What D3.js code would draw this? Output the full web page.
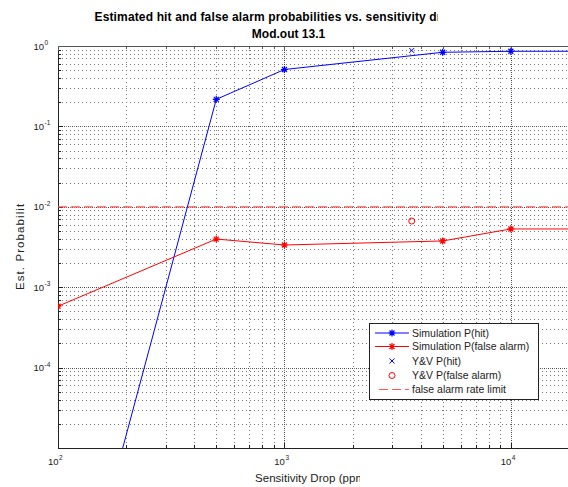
<!DOCTYPE html>
<html>
<head>
<meta charset="utf-8">
<script src="https://cdn.jsdelivr.net/npm/d3@7"></script>
<style>
  body{margin:0;background:#fff}
  svg{display:block}
  text{font-family:"Liberation Sans",Arial,Helvetica,sans-serif}
</style>
</head>
<body>
<svg id="chart"></svg>
<script>
const width=568, height=487;

// data
const sensitivity=[100,500,1000,5000,10000,20000];
const simHit=[1e-8,0.217,0.51,0.835,0.86,0.86];
const simFalseAlarm=[5.8e-4,3.97e-3,3.35e-3,3.76e-3,5.3e-3,5.3e-3];
const vvSensitivity=[3650];
const vvHit=[0.88];
const vvFalseAlarm=[6.65e-3];
const falseAlarmLimit=[0.01];
const xTicks=[100,1000,10000];
const yTicks=[1e-4,1e-3,1e-2,1e-1,1];
const legendLabels=["Simulation P(hit)","Simulation P(false alarm)","Y&V P(hit)","Y&V P(false alarm)","false alarm rate limit"];

const padL=58, padT=46, padB=448, padR=579;

let svg=d3.select("#chart").attr("width",width).attr("height",height);

let x=d3.scaleLog().domain([100,20000]).range([padL,padR]);
let y=d3.scaleLog().domain([1e-5,1]).range([padB,padT]);

// minor tick positions (1..9 per decade)
function minors(lo,hi){
  let out=[];
  for(let d=lo; d<hi; d*=10){
    for(let k=1;k<10;k++){ let v=k*d; if(v<=hi*1.0001) out.push(v); }
  }
  return out;
}
const xMinor=minors(100,20000);
const yMinor=minors(1e-5,1);

let defs=svg.append("defs");
defs.append("clipPath").attr("id","plotclip")
  .append("rect").attr("x",padL).attr("y",padT).attr("width",padR-padL).attr("height",padB-padT);

let grid=svg.append("g").attr("shape-rendering","crispEdges");
// minor grid
grid.selectAll(".vx").data(xMinor).join("line")
  .attr("x1",d=>Math.round(x(d))+0.5).attr("x2",d=>Math.round(x(d))+0.5)
  .attr("y1",padT).attr("y2",padB)
  .attr("stroke","#777").attr("stroke-dasharray","1,3");
grid.selectAll(".hy").data(yMinor).join("line")
  .attr("y1",d=>Math.round(y(d))+0.5).attr("y2",d=>Math.round(y(d))+0.5)
  .attr("x1",padL).attr("x2",padR)
  .attr("stroke","#777").attr("stroke-dasharray","1,3");
// major grid
grid.selectAll(".mx").data(xTicks).join("line")
  .attr("x1",d=>Math.round(x(d))+0.5).attr("x2",d=>Math.round(x(d))+0.5)
  .attr("y1",padT).attr("y2",padB)
  .attr("stroke","#444").attr("stroke-dasharray","1,3").attr("stroke-dashoffset",2);
grid.selectAll(".my").data(yTicks).join("line")
  .attr("y1",d=>Math.round(y(d))+0.5).attr("y2",d=>Math.round(y(d))+0.5)
  .attr("x1",padL).attr("x2",padR)
  .attr("stroke","#444").attr("stroke-dasharray","1,3").attr("stroke-dashoffset",2);

// axes (ticks inward, MATLAB style)
let axes=svg.append("g").attr("shape-rendering","crispEdges");
axes.append("line").attr("x1",padL+0.5).attr("x2",padL+0.5).attr("y1",padT).attr("y2",padB+0.5).attr("stroke","#222");
axes.append("line").attr("x1",padL).attr("x2",padR).attr("y1",padB+0.5).attr("y2",padB+0.5).attr("stroke","#222");
axes.append("line").attr("x1",padL).attr("x2",padR).attr("y1",padT+0.5).attr("y2",padT+0.5).attr("stroke","#555");
axes.selectAll(".ty").data(yMinor).join("line")
  .attr("y1",d=>Math.round(y(d))+0.5).attr("y2",d=>Math.round(y(d))+0.5)
  .attr("x1",padL).attr("x2",d=>padL+(yTicks.includes(d)?5:3)).attr("stroke","#222");
axes.selectAll(".tx").data(xMinor).join("line")
  .attr("x1",d=>Math.round(x(d))+0.5).attr("x2",d=>Math.round(x(d))+0.5)
  .attr("y1",padB).attr("y2",d=>padB-(xTicks.includes(d)?5:3)).attr("stroke","#222");
axes.selectAll(".txt").data(xMinor).join("line")
  .attr("x1",d=>Math.round(x(d))+0.5).attr("x2",d=>Math.round(x(d))+0.5)
  .attr("y1",padT).attr("y2",d=>padT+(xTicks.includes(d)?5:3)).attr("stroke","#555");

// tick labels 10^n
const tickFont=9.5, supFont=6.5;
yTicks.forEach(t=>{
  let yy=y(t), e=Math.round(Math.log10(t));
  svg.append("text").attr("x",44).attr("y",yy+3.5).attr("text-anchor","end")
    .attr("font-size",tickFont).attr("fill","#222").text("10");
  svg.append("text").attr("x",44.5).attr("y",yy-1).attr("font-size",supFont).attr("fill","#222").text(e);
});
xTicks.forEach(t=>{
  let xx=x(t), e=Math.round(Math.log10(t));
  svg.append("text").attr("x",xx+0.5).attr("y",465).attr("text-anchor","end")
    .attr("font-size",tickFont).attr("fill","#222").text("10");
  svg.append("text").attr("x",xx+1).attr("y",460).attr("font-size",supFont).attr("fill","#222").text(e);
});

// data
let plot=svg.append("g").attr("clip-path","url(#plotclip)");
const starPath="M-3.5,0H3.5M0,-3.5V3.5M-2.5,-2.5L2.5,2.5M-2.5,2.5L2.5,-2.5";
const xPath="M-2.5,-2.5L2.5,2.5M-2.5,2.5L2.5,-2.5";

plot.append("line").attr("x1",padL).attr("x2",padR)
  .attr("y1",y(falseAlarmLimit[0])).attr("y2",y(falseAlarmLimit[0]))
  .attr("stroke","#f55").attr("stroke-width",1.2).attr("stroke-dasharray","9,4");

let line=d3.line().x(d=>x(d[0])).y(d=>y(d[1]));
const series=[{vals:simHit,color:"#00f"},{vals:simFalseAlarm,color:"#f00"}];
series.forEach(s=>{
  let pts=d3.zip(sensitivity,s.vals);
  plot.append("path").datum(pts).attr("d",line).attr("fill","none").attr("stroke",s.color).attr("stroke-width",1);
  plot.selectAll(null).data(pts).join("path")
    .attr("transform",d=>`translate(${x(d[0])},${y(d[1])})`)
    .attr("d",starPath).attr("stroke",s.color).attr("stroke-width",1.2);
});
plot.selectAll(null).data(d3.zip(vvSensitivity,vvHit)).join("path")
  .attr("transform",d=>`translate(${x(d[0])},${y(d[1])})`)
  .attr("d",xPath).attr("stroke","#00f").attr("stroke-width",1);
plot.selectAll(null).data(d3.zip(vvSensitivity,vvFalseAlarm)).join("circle")
  .attr("cx",d=>x(d[0])).attr("cy",d=>y(d[1])).attr("r",3)
  .attr("fill","none").attr("stroke","#f00").attr("stroke-width",1);

// legend
let lg=svg.append("g");
lg.append("rect").attr("x",369.5).attr("y",323.5).attr("width",169).attr("height",76)
  .attr("fill","#fff").attr("stroke","#222").attr("shape-rendering","crispEdges");
const rowY=[333,346.5,361,375.5,389.5];
legendLabels.forEach((lab,i)=>{
  let ry=rowY[i];
  lg.append("text").attr("x",412).attr("y",ry+3.5).attr("font-size",10.5).attr("fill","#222").text(lab);
  if(i<2){
    let c=i===0?"#00f":"#f00";
    lg.append("line").attr("x1",375).attr("x2",409).attr("y1",ry).attr("y2",ry).attr("stroke",c);
    lg.append("path").attr("transform",`translate(392,${ry})`).attr("d",starPath).attr("stroke",c).attr("stroke-width",1.2);
  } else if(i===2){
    lg.append("path").attr("transform",`translate(392,${ry})`).attr("d",xPath).attr("stroke","#00f");
  } else if(i===3){
    lg.append("circle").attr("cx",392).attr("cy",ry).attr("r",3).attr("fill","none").attr("stroke","#f00");
  } else {
    lg.append("line").attr("x1",379).attr("x2",409).attr("y1",ry).attr("y2",ry)
      .attr("stroke","#f55").attr("stroke-width",1.2).attr("stroke-dasharray","9,4");
  }
});

// title and axis labels (clipped in the reference figure)
defs.append("clipPath").attr("id","titleclip").append("rect").attr("x",0).attr("y",0).attr("width",438).attr("height",25);
defs.append("clipPath").attr("id","xlabclip").append("rect").attr("x",0).attr("y",468).attr("width",360).attr("height",19);
defs.append("clipPath").attr("id","ylabclip").append("rect").attr("x",0).attr("y",204).attr("width",40).attr("height",100);

svg.append("text").attr("x",94.5).attr("y",20.5).attr("font-size",12).attr("font-weight","bold")
  .attr("textLength",347).attr("lengthAdjust","spacing").attr("clip-path","url(#titleclip)")
  .text("Estimated hit and false alarm probabilities vs. sensitivity dr");
svg.append("text").attr("x",288.5).attr("y",37.5).attr("text-anchor","middle").attr("font-size",12).attr("font-weight","bold")
  .text("Mod.out 13.1");
svg.append("text").attr("x",255).attr("y",482).attr("font-size",11.5).attr("fill","#222")
  .attr("textLength",110).attr("lengthAdjust","spacing").attr("clip-path","url(#xlabclip)")
  .text("Sensitivity Drop (ppm");
svg.append("g").attr("clip-path","url(#ylabclip)")
  .append("text").attr("transform","translate(23.5,290) rotate(-90)").attr("font-size",11.5).attr("fill","#222")
  .attr("textLength",93).attr("lengthAdjust","spacing")
  .text("Est. Probability");
</script>
</body>
</html>
